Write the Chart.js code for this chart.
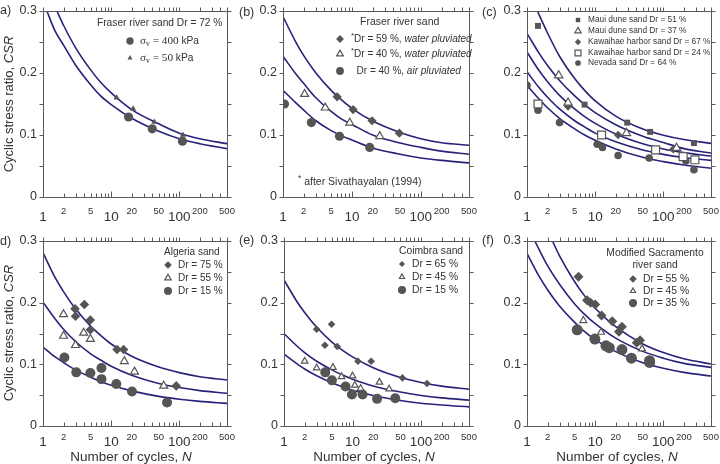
<!DOCTYPE html>
<html>
<head>
<meta charset="utf-8">
<script src="https://cdn.jsdelivr.net/npm/chart.js@4.4.1/dist/chart.umd.min.js"></script>
<style>
  body { margin: 0; width: 720px; height: 464px; background: #fff; position: relative; overflow: hidden; font-family: 'Liberation Sans', Arial, sans-serif; color: #333; }
  canvas { position: absolute; }
  .lbl { position: absolute; font-size: 12.5px; line-height: 14px; white-space: nowrap; }
  .ytitle { position: absolute; width: 200px; height: 16px; line-height: 16px; text-align: center; font-size: 13px; transform: rotate(-90deg); white-space: nowrap; }
  .xtitle { position: absolute; width: 200px; height: 16px; line-height: 16px; text-align: center; font-size: 13.5px; white-space: nowrap; }
</style>
</head>
<body>
<canvas id="pa" width="239" height="229" style="left:0;top:0"></canvas>
<canvas id="pb" width="241" height="229" style="left:240px;top:0"></canvas>
<canvas id="pc" width="239" height="229" style="left:484px;top:0"></canvas>
<canvas id="pd" width="239" height="234" style="left:0;top:230px"></canvas>
<canvas id="pe" width="240" height="234" style="left:241px;top:230px"></canvas>
<canvas id="pf" width="239" height="234" style="left:484px;top:230px"></canvas>

<div class="lbl" style="left:0;top:3px">a)</div>
<div class="lbl" style="left:239px;top:5px">(b)</div>
<div class="lbl" style="left:482px;top:5px">(c)</div>
<div class="lbl" style="left:0;top:234px">d)</div>
<div class="lbl" style="left:239px;top:233px">(e)</div>
<div class="lbl" style="left:482px;top:233px">(f)</div>

<div class="ytitle" style="left:-91px;top:96px">Cyclic stress ratio, <i>CSR</i></div>
<div class="ytitle" style="left:-91px;top:325px">Cyclic stress ratio, <i>CSR</i></div>
<div class="xtitle" style="left:31px;top:449px">Number of cycles, <i>N</i></div>
<div class="xtitle" style="left:274px;top:449px">Number of cycles, <i>N</i></div>
<div class="xtitle" style="left:517px;top:449px">Number of cycles, <i>N</i></div>

<script>
const F = "'Liberation Sans', Arial, sans-serif";
const SERIF = "'Liberation Serif', 'Times New Roman', serif";
const CURVE = '#27237a';
const MARK = '#555555';
const AXIS = '#5a5a5a';

// axis ticks
const xTickVals = [1, 2, 3, 4, 5, 6, 7, 8, 9, 10, 20, 30, 40, 50, 60, 70, 80, 90, 100, 200, 300, 400, 500];
const xLabelVals = [1, 2, 5, 10, 20, 50, 100, 200, 500];
const xMajorVals = [1, 10, 100];
const yTickVals = [0, 0.05, 0.1, 0.15, 0.2, 0.25, 0.3];
const yLabelVals = [0, 0.1, 0.2, 0.3];

// common N values used to read the fitted curves
const curveN = [1, 1.5, 2, 3, 5, 7, 10, 20, 50, 100, 200, 500];

// (a) Fraser river sand Dr = 72 %
const aUpN = [1.6, 2, 3, 5, 7, 10, 20, 50, 100, 200, 500];
const aUp = [0.300, 0.277, 0.241, 0.205, 0.185, 0.168, 0.141, 0.118, 0.103, 0.094, 0.086];
const aLoN = [1.14, 1.5, 2, 3, 5, 7, 10, 20, 50, 100, 200, 500];
const aLo = [0.300, 0.268, 0.245, 0.213, 0.181, 0.163, 0.149, 0.127, 0.106, 0.094, 0.086, 0.078];
const a400N = [18, 40, 111];
const a400 = [0.129, 0.110, 0.090];
const a50N = [12, 21, 43, 113];
const a50 = [0.160, 0.142, 0.121, 0.100];

// (b) Fraser river sand
const bTop = [0.291, 0.252, 0.228, 0.200, 0.172, 0.157, 0.143, 0.1225, 0.104, 0.094, 0.0875, 0.0835];
const bMid = [0.227, 0.200, 0.183, 0.160, 0.138, 0.126, 0.117, 0.100, 0.087, 0.080, 0.074, 0.069];
const bLow = [0.172, 0.153, 0.140, 0.123, 0.107, 0.099, 0.092, 0.079, 0.069, 0.063, 0.059, 0.055];
const b59N = [6.1, 10.4, 19.6, 48.8];
const b59 = [0.1615, 0.141, 0.123, 0.103];
const b40wN = [2.06, 4.1, 9.3, 25.3];
const b40w = [0.166, 0.144, 0.1195, 0.098];
const b40aN = [1.05, 2.58, 6.6, 18.1];
const b40a = [0.150, 0.120, 0.098, 0.080];

// (c) Maui / Kawaihae / Nevada
const c1N = [1.42, 2, 3, 5, 7, 10, 20, 50, 100, 200, 500];
const c1 = [0.300, 0.2645, 0.227, 0.191, 0.172, 0.155, 0.1305, 0.1096, 0.0997, 0.0928, 0.0865];
const c2 = [0.264, 0.232, 0.212, 0.188, 0.163, 0.149, 0.136, 0.1165, 0.098, 0.088, 0.078, 0.071];
const c3 = [0.234, 0.204, 0.186, 0.164, 0.142, 0.1296, 0.1187, 0.1016, 0.0858, 0.0775, 0.0716, 0.066];
const c4 = [0.202, 0.1765, 0.161, 0.142, 0.123, 0.113, 0.103, 0.089, 0.0757, 0.0687, 0.0636, 0.059];
const c5 = [0.180, 0.158, 0.144, 0.127, 0.110, 0.100, 0.0914, 0.0775, 0.064, 0.057, 0.0515, 0.0463];
const cMaui51N = [1.45, 7.0, 29.5, 64, 281];
const cMaui51 = [0.276, 0.149, 0.120, 0.105, 0.087];
const cMaui37N = [2.92, 4.0, 28.8, 156];
const cMaui37 = [0.196, 0.152, 0.103, 0.079];
const cKaw67N = [4.0, 21.7, 140];
const cKaw67 = [0.146, 0.100, 0.077];
const cKaw24N = [1.45, 12.4, 77, 195, 290];
const cKaw24 = [0.150, 0.100, 0.076, 0.065, 0.060];
const cNevN = [1, 1.45, 3.0, 10.7, 12.8, 21.7, 62, 214, 281];
const cNev = [0.180, 0.140, 0.120, 0.085, 0.080, 0.067, 0.063, 0.058, 0.044];

// (d) Algeria sand
const dTop = [0.281, 0.241, 0.218, 0.190, 0.162, 0.147, 0.133, 0.113, 0.0955, 0.0866, 0.080, 0.0747];
const dMid = [0.2008, 0.174, 0.157, 0.137, 0.117, 0.107, 0.097, 0.0823, 0.069, 0.0623, 0.0574, 0.053];
const dLow = [0.128, 0.112, 0.103, 0.091, 0.079, 0.072, 0.066, 0.057, 0.048, 0.0434, 0.040, 0.0367];
const d75N = [2.95, 3.0, 4.04, 4.95, 4.95, 12.2, 15.2, 90];
const d75 = [0.190, 0.178, 0.197, 0.172, 0.156, 0.124, 0.124, 0.065];
const d55N = [2.0, 2.0, 3.0, 3.95, 4.95, 15.6, 22, 59];
const d55 = [0.181, 0.146, 0.131, 0.151, 0.141, 0.105, 0.088, 0.065];
const d15N = [2.06, 3.08, 4.95, 7.2, 7.2, 11.9, 20.2, 66];
const d15 = [0.111, 0.087, 0.086, 0.094, 0.076, 0.068, 0.056, 0.038];

// (e) Coimbra sand
const eTop = [0.237, 0.204, 0.184, 0.160, 0.136, 0.1235, 0.112, 0.0944, 0.0786, 0.0706, 0.0647, 0.0595];
const eMid = [0.150, 0.131, 0.119, 0.105, 0.091, 0.083, 0.076, 0.065, 0.055, 0.0495, 0.0456, 0.042];
const eLow = [0.1166, 0.102, 0.0925, 0.0815, 0.070, 0.064, 0.058, 0.0495, 0.0414, 0.037, 0.034, 0.031];
const e65N = [2.99, 3.95, 4.94, 5.98, 12, 18.7, 53.5, 122];
const e65 = [0.157, 0.131, 0.165, 0.129, 0.105, 0.105, 0.078, 0.069];
const e45N = [2.0, 3.0, 5.17, 6.9, 10, 10.8, 13.1, 24.7, 34.2];
const e45 = [0.105, 0.094, 0.095, 0.080, 0.081, 0.066, 0.061, 0.071, 0.060];
const e15N = [4.0, 5.0, 7.9, 9.8, 14.0, 22.8, 42];
const e15 = [0.087, 0.074, 0.064, 0.051, 0.051, 0.044, 0.045];

// (f) Modified Sacramento river sand
const fTopN = [2.36, 3, 5, 7, 10, 20, 50, 100, 200, 500];
const fTop = [0.300, 0.276, 0.234, 0.211, 0.191, 0.161, 0.133, 0.119, 0.109, 0.1005];
const fMidN = [1.3, 2, 3, 5, 7, 10, 20, 50, 100, 200, 500];
const fMid = [0.300, 0.260, 0.230, 0.198, 0.181, 0.166, 0.1425, 0.121, 0.110, 0.1016, 0.095];
const fLow = [0.280, 0.243, 0.221, 0.1945, 0.168, 0.153, 0.140, 0.1206, 0.1027, 0.0936, 0.0869, 0.081];
const f55N = [5.7, 7.6, 8.6, 10, 12.4, 17.8, 22.3, 24.7, 40.7, 45.5];
const f55 = [0.242, 0.204, 0.200, 0.197, 0.179, 0.170, 0.153, 0.161, 0.135, 0.139];
const f45N = [6.7, 12.2, 48.7];
const f45 = [0.171, 0.152, 0.125];
const f35N = [5.45, 9.9, 14.4, 16.1, 24.7, 34, 62.8, 62.8];
const f35 = [0.156, 0.141, 0.130, 0.127, 0.124, 0.110, 0.106, 0.103];

const toXY = (xs, ys) => xs.map((x, i) => ({ x, y: ys[i] }));

const curve = (xs, ys) => ({
  data: toXY(xs, ys),
  showLine: true,
  borderColor: CURVE,
  borderWidth: 1.6,
  pointRadius: 0,
  cubicInterpolationMode: 'monotone',
  order: 2
});

const marks = (xs, ys, style, r, open) => ({
  data: toXY(xs, ys),
  pointStyle: style,
  pointRadius: r,
  pointHoverRadius: r,
  backgroundColor: open ? '#ffffff' : MARK,
  borderColor: MARK,
  borderWidth: open ? 1.2 : 0,
  order: 1
});

// draws the box, the tick marks (bottom ticks point inward like the original)
// and the tick labels (x decades bigger and lower than the 2/5 labels)
const frameTicks = {
  id: 'frameTicks',
  afterDraw(chart, args, opts) {
    const { ctx, chartArea: a, scales: { x, y } } = chart;
    ctx.save();
    ctx.strokeStyle = AXIS;
    ctx.lineWidth = 1;
    const L = Math.round(a.left) + 0.5, R = Math.round(a.right) + 0.5;
    const T = Math.round(a.top) + 0.5, B = Math.round(a.bottom) + 0.5;
    ctx.beginPath();
    ctx.rect(L, T, R - L, B - T);
    xTickVals.forEach(v => {
      const px = Math.round(x.getPixelForValue(v)) + 0.5;
      const len = (v === 10 || v === 100) ? 6 : 4;
      ctx.moveTo(px, B); ctx.lineTo(px, B - len);
      ctx.moveTo(px, T); ctx.lineTo(px, T - 4);
    });
    yTickVals.forEach(v => {
      const py = Math.round(y.getPixelForValue(v)) + 0.5;
      ctx.moveTo(L - 4, py); ctx.lineTo(L, py);
      ctx.moveTo(R, py); ctx.lineTo(R + 4, py);
    });
    ctx.stroke();

    ctx.fillStyle = '#333';
    ctx.textBaseline = 'middle';
    ctx.textAlign = 'center';
    xLabelVals.forEach(v => {
      const major = xMajorVals.includes(v);
      ctx.font = `${major ? 13.5 : 9.5}px ${F}`;
      ctx.fillText(String(v), x.getPixelForValue(v), a.bottom + (major ? opts.majorDy : opts.minorDy));
    });
    ctx.textAlign = 'right';
    ctx.font = `12.5px ${F}`;
    yLabelVals.forEach(v => {
      ctx.fillText(v === 0 ? '0' : v.toFixed(1), a.left - 6, y.getPixelForValue(v));
    });
    ctx.restore();
  }
};

// in-plot legend text with mixed styles (italic, sub/superscript)
function drawSegs(ctx, segs, x, y, size, align) {
  const fontOf = (s, sz) => {
    const serif = s && s.indexOf('serif') >= 0;
    const it = s === 'i' ? 'italic ' : '';
    return `${it}${sz}px ${serif ? SERIF : F}`;
  };
  const parts = segs.map(([t, s]) => {
    let sz = size, dy = 0;
    if (s === 'sup') { sz = size * 0.8; dy = -size * 0.3; }
    if (s === 'subserif') { sz = size * 0.75; dy = size * 0.3; }
    if (s === 'serif') sz = size * 1.1;
    ctx.font = fontOf(s, sz);
    return { t, font: ctx.font, dy, w: ctx.measureText(t).width };
  });
  let cx = x;
  if (align === 'center') cx = x - parts.reduce((s, p) => s + p.w, 0) / 2;
  parts.forEach(p => {
    ctx.font = p.font;
    ctx.fillText(p.t, cx, y + p.dy);
    cx += p.w;
  });
}

const panelLegend = {
  id: 'panelLegend',
  afterDraw(chart, args, opts) {
    if (!opts || !opts.lines) return;
    const ctx = chart.ctx;
    const ox = chart.canvas.offsetLeft, oy = chart.canvas.offsetTop;
    ctx.save();
    ctx.fillStyle = '#333';
    ctx.textBaseline = 'middle';
    ctx.textAlign = 'left';
    opts.lines.forEach(ln => {
      if (ln.ds !== undefined) {
        const ds = chart.data.datasets[ln.ds];
        ctx.fillStyle = ds.backgroundColor;
        ctx.strokeStyle = ds.borderColor;
        ctx.lineWidth = ds.borderWidth;
        Chart.helpers.drawPoint(ctx, {
          pointStyle: ds.pointStyle, rotation: 0,
          radius: ds.pointRadius * (opts.markScale || 0.85), borderWidth: ds.borderWidth
        }, opts.mx - ox, ln.y - oy);
        ctx.fillStyle = '#333';
        drawSegs(ctx, ln.segs, opts.tx - ox, ln.y - oy, opts.size);
      } else {
        drawSegs(ctx, ln.segs, ln.x - ox, ln.y - oy, ln.size || opts.size, ln.align);
      }
    });
    ctx.restore();
  }
};

function makePanel(id, datasets, legend, xAxisH, labelDy) {
  new Chart(document.getElementById(id), {
    type: 'scatter',
    data: { datasets },
    options: {
      responsive: false,
      animation: false,
      events: [],
      layout: { padding: { top: 11, right: 12, left: 0, bottom: 0 } },
      plugins: {
        legend: { display: false },
        tooltip: { enabled: false },
        panelLegend: legend,
        frameTicks: labelDy
      },
      scales: {
        x: {
          type: 'logarithmic',
          min: 1,
          max: 500,
          grid: { display: false, drawTicks: false },
          border: { display: false },
          afterBuildTicks: (s) => { s.ticks = xTickVals.map(v => ({ value: v })); },
          afterFit: (s) => { s.height = xAxisH; },
          ticks: { display: false }
        },
        y: {
          min: 0,
          max: 0.3,
          grid: { display: false, drawTicks: false },
          border: { display: false },
          afterBuildTicks: (s) => { s.ticks = yTickVals.map(v => ({ value: v })); },
          afterFit: (s) => { s.width = 43; },
          ticks: { display: false }
        }
      }
    },
    plugins: [frameTicks, panelLegend]
  });
}

const topDy = { minorDy: 14, majorDy: 20 };
const botDy = { minorDy: 11, majorDy: 16 };

// (a)
makePanel('pa', [
  marks(a400N, a400, 'circle', 4.6, false),
  marks(a50N, a50, 'triangle', 3.6, false),
  curve(aUpN, aUp),
  curve(aLoN, aLo)
], {
  size: 10.2, mx: 130, tx: 140, markScale: 0.8,
  lines: [
    { x: 97, y: 23, segs: [['Fraser river sand Dr = 72 %']] },
    { ds: 0, y: 41, segs: [['σ', 'serif'], ['v', 'subserif'], [' = 400', 'serif'], [' kPa']] },
    { ds: 1, y: 58, segs: [['σ', 'serif'], ['v', 'subserif'], [' = 50', 'serif'], [' kPa']] }
  ]
}, 32, topDy);

// (b)
makePanel('pb', [
  marks(b59N, b59, 'rectRot', 4.6, false),
  marks(b40wN, b40w, 'triangle', 4.6, true),
  marks(b40aN, b40a, 'circle', 4.6, false),
  curve(curveN, bTop),
  curve(curveN, bMid),
  curve(curveN, bLow)
], {
  size: 10, mx: 340, tx: 351,
  lines: [
    { x: 360, y: 22, size: 10.5, segs: [['Fraser river sand']] },
    { ds: 0, y: 39, segs: [['*', 'sup'], ['Dr = 59 %, '], ['water pluviated', 'i']] },
    { ds: 1, y: 54, segs: [['*', 'sup'], ['Dr = 40 %, '], ['water pluviated', 'i']] },
    { ds: 2, y: 71, segs: [['  Dr = 40 %, '], ['air pluviated', 'i']] },
    { x: 298, y: 182, size: 10.5, segs: [['*', 'sup'], [' after Sivathayalan (1994)']] }
  ]
}, 32, topDy);

// (c)
makePanel('pc', [
  marks(cMaui51N, cMaui51, 'rect', 4.2, false),
  marks(cMaui37N, cMaui37, 'triangle', 4.8, true),
  marks(cKaw67N, cKaw67, 'rectRot', 4.2, false),
  marks(cKaw24N, cKaw24, 'rect', 5.6, true),
  marks(cNevN, cNev, 'circle', 3.8, false),
  curve(c1N, c1),
  curve(curveN, c2),
  curve(curveN, c3),
  curve(curveN, c4),
  curve(curveN, c5)
], {
  size: 8.3, mx: 578, tx: 588, markScale: 0.75,
  lines: [
    { ds: 0, y: 20, segs: [['Maui dune sand Dr = 51 %']] },
    { ds: 1, y: 31, segs: [['Maui dune sand Dr = 37 %']] },
    { ds: 2, y: 42, segs: [['Kawaihae harbor sand Dr = 67 %']] },
    { ds: 3, y: 53, segs: [['Kawaihae harbor sand Dr = 24 %']] },
    { ds: 4, y: 63, segs: [['Nevada sand Dr = 64 %']] }
  ]
}, 32, topDy);

// (d)
makePanel('pd', [
  marks(d75N, d75, 'rectRot', 4.8, false),
  marks(d55N, d55, 'triangle', 4.6, true),
  marks(d15N, d15, 'circle', 5, false),
  curve(curveN, dTop),
  curve(curveN, dMid),
  curve(curveN, dLow)
], {
  size: 10, mx: 168, tx: 178, markScale: 0.8,
  lines: [
    { x: 164, y: 252, segs: [['Algeria sand']] },
    { ds: 0, y: 265, segs: [['Dr = 75 %']] },
    { ds: 1, y: 278, segs: [['Dr = 55 %']] },
    { ds: 2, y: 291, segs: [['Dr = 15 %']] }
  ]
}, 38, botDy);

// (e)
makePanel('pe', [
  marks(e65N, e65, 'rectRot', 3.8, false),
  marks(e45N, e45, 'triangle', 3.8, true),
  marks(e15N, e15, 'circle', 5, false),
  curve(curveN, eTop),
  curve(curveN, eMid),
  curve(curveN, eLow)
], {
  size: 10.3, mx: 402, tx: 412, markScale: 0.8,
  lines: [
    { x: 399, y: 251, segs: [['Coimbra sand']] },
    { ds: 0, y: 264, segs: [['Dr = 65 %']] },
    { ds: 1, y: 277, segs: [['Dr = 45 %']] },
    { ds: 2, y: 290, segs: [['Dr = 15 %']] }
  ]
}, 38, botDy);

// (f)
makePanel('pf', [
  marks(f55N, f55, 'rectRot', 5, false),
  marks(f45N, f45, 'triangle', 4, true),
  marks(f35N, f35, 'circle', 5.5, false),
  curve(fTopN, fTop),
  curve(fMidN, fMid),
  curve(curveN, fLow)
], {
  size: 10.3, mx: 633, tx: 643, markScale: 0.75,
  lines: [
    { x: 655, y: 253, align: 'center', segs: [['Modified Sacramento']] },
    { x: 655, y: 265, align: 'center', segs: [['river sand']] },
    { ds: 0, y: 279, segs: [['Dr = 55 %']] },
    { ds: 1, y: 291, segs: [['Dr = 45 %']] },
    { ds: 2, y: 303, segs: [['Dr = 35 %']] }
  ]
}, 38, botDy);
</script>
</body>
</html>
